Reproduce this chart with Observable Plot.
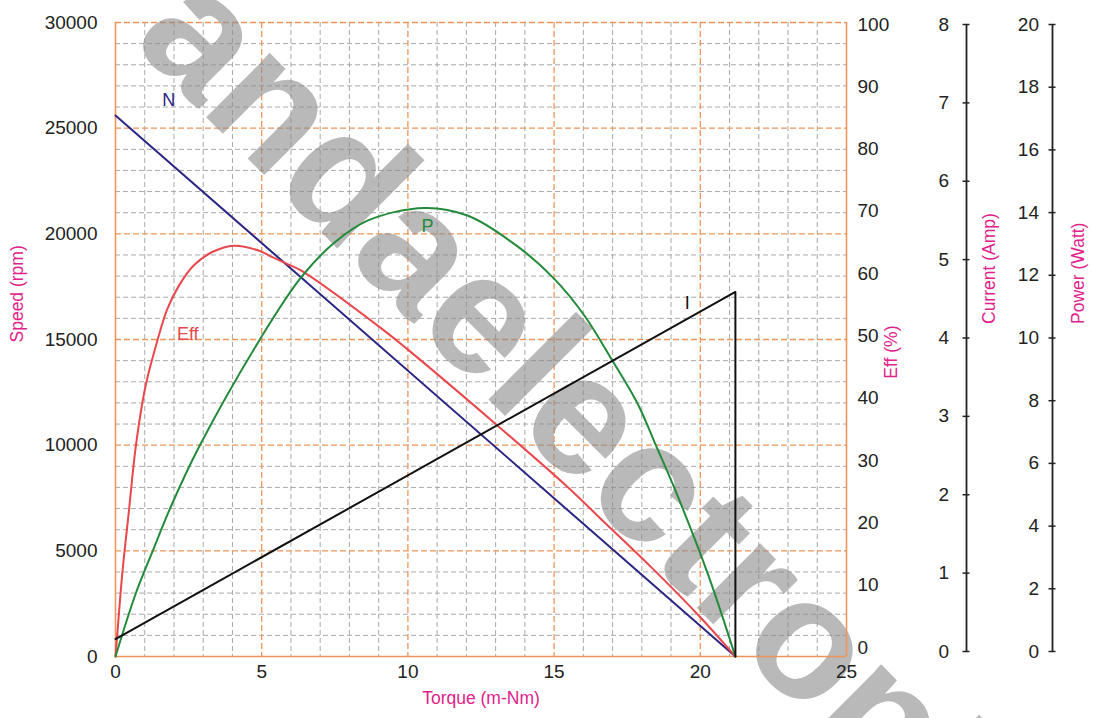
<!DOCTYPE html>
<html>
<head>
<meta charset="utf-8">
<script src="https://cdn.jsdelivr.net/npm/d3@7"></script>
<script src="https://cdn.jsdelivr.net/npm/@observablehq/plot@0.6"></script>
<style>
html, body { margin: 0; padding: 0; background: #fff; }
#wrap { position: relative; width: 1093px; height: 718px; overflow: hidden; background: #fff; }
#wrap svg { position: absolute; left: 0; top: 0; }
</style>
</head>
<body>
<div id="wrap"></div>
<script>
// ---------- data ----------
const torqueTicks = [0, 5, 10, 15, 20, 25];
const speedTicks = [0, 5000, 10000, 15000, 20000, 25000, 30000];
const effTicks = [0, 10, 20, 30, 40, 50, 60, 70, 80, 90, 100];
const currentTicks = [0, 1, 2, 3, 4, 5, 6, 7, 8];
const powerTicks = [0, 2, 4, 6, 8, 10, 12, 14, 16, 18, 20];

// Speed N (rpm) vs torque (m-Nm)
const speedTorque = [0, 21.2];
const speedRpm = [25600, 0];

// Current I (A)
const currentTorque = [0, 21.2, 21.2];
const currentAmp = [0.22, 4.6, 0];

// Efficiency (%)
const effTorque = [0, 0.08, 0.23, 0.46, 0.69, 1.03, 1.43, 1.77, 2.17, 2.68, 3.31, 4.05, 4.97, 5.31, 5.88, 6.34, 9.19, 10.0, 13.07, 15.47, 16.6, 18.32, 20.0, 21.2];
const effPct = [0, 4.6, 13, 23, 33, 42.7, 49.8, 54.8, 58.5, 61.7, 63.8, 64.8, 63.9, 63.1, 61.9, 60.9, 51.4, 48.4, 36.4, 26.7, 21.7, 14.1, 6.2, 0];

// Output power (W)
const powerTorque = [0, 0.69, 1.26, 1.88, 2.85, 4.97, 6.34, 7.48, 8.62, 10.56, 12.04, 13.76, 15.0, 16.04, 16.95, 17.87, 18.44, 19.12, 20.26, 21.2];
const powerWatt = [0, 1.98, 3.3, 4.7, 6.6, 10.05, 11.95, 13.05, 13.75, 14.15, 13.91, 12.93, 11.92, 10.75, 9.4, 7.95, 6.75, 5.3, 2.6, 0];

// Curve labels (anchored in torque / speed-axis units)
const labelText = ["N", "Eff", "P", "I"];
const labelTorque = [1.82, 2.47, 10.67, 19.55];
const labelSpeed = [26300, 15240, 20350, 16700];

const watermarkText = ["andaelectronics"];

// ---------- styles ----------
const W = 1093, H = 718;
const FONT = "'Liberation Sans', Arial, Helvetica, sans-serif";
const ORANGE = "#f0955a";
const GRAY = "#a9a9a9";
const MAG = "#e0228a";
const INK = "#222";
const colorOf = {N: "#2b2584", Eff: "#e8474c", P: "#238a3c", I: "#111"};

// unit conversions onto the speed axis (full scale 30000)
const EFF_K = 30000 / 100, CUR_K = 30000 / 8, POW_K = 30000 / 20;

const speedData = speedTorque.map((t, i) => ({t, v: speedRpm[i]}));
const currentData = currentTorque.map((t, i) => ({t, v: currentAmp[i] * CUR_K}));
const effData = effTorque.map((t, i) => ({t, v: effPct[i] * EFF_K}));
const powerData = powerTorque.map((t, i) => ({t, v: powerWatt[i] * POW_K}));
const labels = labelText.map((s, i) => ({s, t: labelTorque[i], v: labelSpeed[i]}));

const minorX = d3.range(0, 26, 1).filter(d => d % 5 !== 0);
const minorY = d3.range(0, 30001, 1000).filter(d => d % 5000 !== 0);

const baseStyle = {background: "transparent", fontFamily: FONT, overflow: "visible"};

const main = Plot.plot({
  width: W, height: H,
  marginLeft: 115, marginRight: W - 846, marginTop: 22, marginBottom: H - 656,
  style: baseStyle,
  x: {domain: [0, 25]},
  y: {domain: [0, 30000]},
  marks: [
    Plot.ruleX(minorX, {stroke: GRAY, strokeWidth: 1, strokeDasharray: "5,3"}),
    Plot.ruleY(minorY, {stroke: GRAY, strokeWidth: 1, strokeDasharray: "5,3"}),
    Plot.ruleX(torqueTicks.filter(d => d > 0 && d < 25), {stroke: ORANGE, strokeWidth: 1.3, strokeDasharray: "6,3"}),
    Plot.ruleY(speedTicks.filter(d => d > 0), {stroke: ORANGE, strokeWidth: 1.3, strokeDasharray: "6,3"}),
    Plot.text(watermarkText, {
      frameAnchor: "top-left", dx: 15, dy: 19, rotate: 45,
      textAnchor: "start", lineAnchor: "bottom",
      fontSize: 171, fontWeight: "bold", fontFamily: FONT,
      fill: "#8a8a8a", fillOpacity: 0.6
    }),
    Plot.ruleX([0, 25], {stroke: ORANGE, strokeWidth: 1.6}),
    Plot.ruleY([0], {stroke: ORANGE, strokeWidth: 1.6}),
    Plot.line(speedData, {x: "t", y: "v", stroke: colorOf.N, strokeWidth: 2}),
    Plot.line(effData, {x: "t", y: "v", stroke: colorOf.Eff, strokeWidth: 2, curve: "catmull-rom"}),
    Plot.line(powerData, {x: "t", y: "v", stroke: colorOf.P, strokeWidth: 2, curve: "catmull-rom"}),
    Plot.line(currentData, {x: "t", y: "v", stroke: colorOf.I, strokeWidth: 2}),
    Plot.text(labels, {x: "t", y: "v", text: "s", fill: d => colorOf[d.s], fontSize: 18, fontFamily: FONT}),
    Plot.axisX({ticks: torqueTicks, tickSize: 0, tickPadding: 8, tickFormat: d => String(d), label: null, fontSize: 19, fill: INK}),
    Plot.axisY({ticks: speedTicks, tickSize: 0, tickPadding: 18, tickFormat: d => String(d), label: null, fontSize: 19, fill: INK}),
    Plot.text(["Speed (rpm)"], {frameAnchor: "left", rotate: -90, dx: -98, dy: 3, fill: MAG, fontSize: 17.5, fontFamily: FONT}),
    Plot.text(["Eff (%)"], {frameAnchor: "right", rotate: -90, dx: 45, dy: -14, fill: MAG, fontSize: 17.5, fontFamily: FONT}),
    Plot.text(["Torque (m-Nm)"], {frameAnchor: "bottom", dy: 47, fill: MAG, fontSize: 17.5, fontFamily: FONT})
  ]
});

// Efficiency tick labels (right of the frame)
const effAxis = Plot.plot({
  width: W, height: H,
  marginLeft: 800, marginRight: W - 846, marginTop: 24, marginBottom: H - 647,
  style: baseStyle,
  y: {domain: [0, 100]},
  marks: [
    Plot.axisY({anchor: "right", ticks: effTicks, tickSize: 0, tickPadding: 11, tickFormat: d => String(d), label: null, fontSize: 19, fill: INK})
  ]
});

// Current axis
const curAxis = Plot.plot({
  width: W, height: H,
  marginLeft: 966, marginRight: W - 1000, marginTop: 24, marginBottom: H - 651,
  style: baseStyle,
  x: {domain: [0, 1], axis: null},
  y: {domain: [0, 8]},
  marks: [
    Plot.ruleX([0], {y1: 0, y2: 8, stroke: INK, strokeWidth: 1.8}),
    Plot.axisY({anchor: "left", ticks: currentTicks, tickSize: 7, dx: 3.5, tickPadding: 14, tickFormat: d => String(d), label: null, fontSize: 19, color: INK, strokeWidth: 1.5}),
    Plot.text(["Current (Amp)"], {frameAnchor: "left", rotate: -90, dx: 23, dy: -14, fill: MAG, fontSize: 17.5, fontFamily: FONT})
  ]
});

// Power axis
const powAxis = Plot.plot({
  width: W, height: H,
  marginLeft: 1052, marginRight: W - 1075, marginTop: 24, marginBottom: H - 651,
  style: baseStyle,
  x: {domain: [0, 1], axis: null},
  y: {domain: [0, 20]},
  marks: [
    Plot.ruleX([0], {y1: 0, y2: 20, stroke: INK, strokeWidth: 1.8}),
    Plot.axisY({anchor: "left", ticks: powerTicks, tickSize: 7, dx: 3.5, tickPadding: 10, tickFormat: d => String(d), label: null, fontSize: 19, color: INK, strokeWidth: 1.5}),
    Plot.text(["Power (Watt)"], {frameAnchor: "left", rotate: -90, dx: 26, dy: -14, fill: MAG, fontSize: 17.5, fontFamily: FONT})
  ]
});

const wrap = document.getElementById("wrap");
[main, effAxis, curAxis, powAxis].forEach(p => wrap.appendChild(p));
</script>
</body>
</html>
